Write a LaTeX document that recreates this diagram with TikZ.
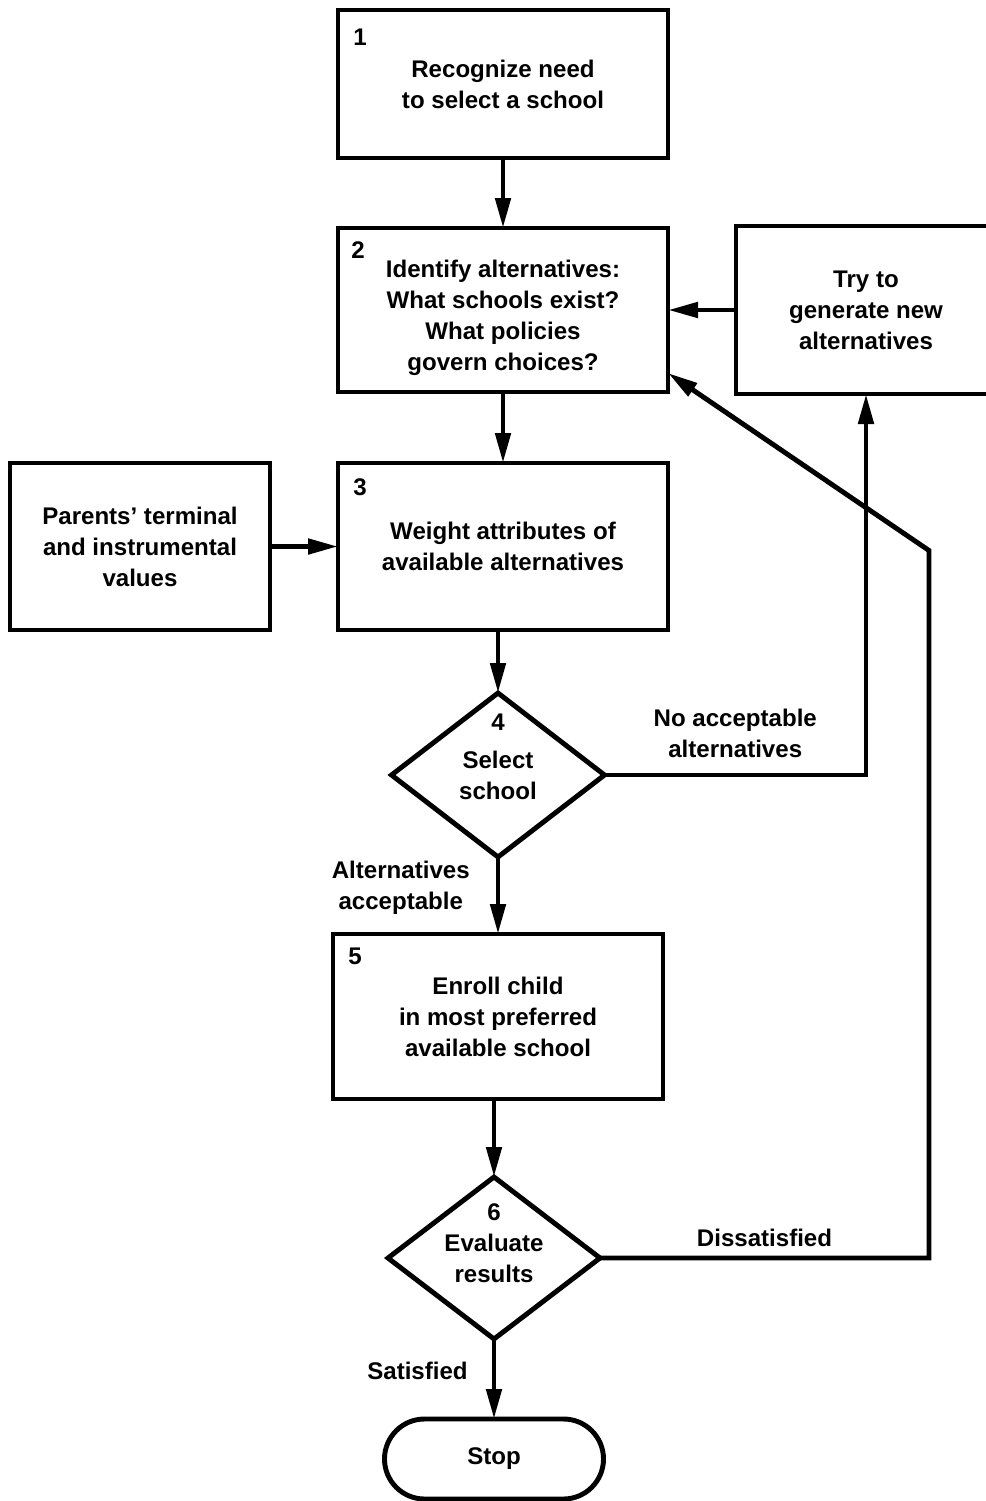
\documentclass[tikz,border=0pt]{standalone}
\usepackage{fontspec}
\setmainfont{Liberation Sans}
\usetikzlibrary{positioning,arrows.meta,calc,shapes.geometric}
\newcommand{\chartfont}{\fontsize{13.7}{17.6}\selectfont\bfseries}

\begin{document}
\begin{tikzpicture}[
>={Triangle[length=0.6cm,width=0.3cm]}, node distance=1.4cm,
every node/.style={font=\chartfont, align=center},
stepbox/.style={draw, line width=2.8pt, outer sep=0pt, minimum width=6.6cm, minimum height=3.3cm},
decision/.style={draw, diamond, line width=2.8pt, outer sep=0pt, inner sep=0pt, minimum width=4.26cm, minimum height=3.28cm},
stopbox/.style={draw, line width=2.8pt, outer sep=0pt, rounded corners=0.8cm, minimum width=4.38cm, minimum height=1.6cm},
num/.style={inner sep=0pt},
flow/.style={line width=2.8pt, ->}
]
\clip (0,0) rectangle (19.72,-30.02);
\node[stepbox, minimum height=2.96cm] (b1) at (10.06,-1.68) {Recognize need\\to select a school};
\node[stepbox, minimum height=3.28cm, text height=72pt, below=1.4cm of b1] (b2) {Identify alternatives:\\What schools exist?\\What policies\\govern choices?};
\node[stepbox, minimum height=3.34cm, below=1.42cm of b2] (b3) {Weight attributes of\\available alternatives};
\node[decision, below=1.26cm of b3, xshift=-0.1cm] (d4) {Select\\school};
\node[stepbox, below=1.54cm of d4] (b5) {Enroll child\\in most preferred\\available school};
\node[decision, minimum width=4.24cm, minimum height=3.24cm, below=1.56cm of b5, xshift=-0.08cm] (d6) {Evaluate\\results};
\node[stopbox, below=1.6cm of d6] (stop) {Stop};
\node[stepbox, minimum width=5.2cm, minimum height=3.36cm, right=1.36cm of b2] (try) {Try to\\generate new\\alternatives};
\node[stepbox, minimum width=5.2cm, minimum height=3.34cm, left=1.36cm of b3] (parents) {Parents' terminal\\and instrumental\\values};

\node[num, below right=0.37cm and 0.3cm of b1.north west] (n1) {1};
\node[num, below right=0.27cm and 0.26cm of b2.north west] (n2) {2};
\node[num, below right=0.3cm and 0.3cm of b3.north west] (n3) {3};
\node[num, below=0.42cm of d4.north] (n4) {4};
\node[num, below right=0.27cm and 0.3cm of b5.north west] (n5) {5};
\node[num, below=0.52cm of d6.north] (n6) {6};

\coordinate (turn) at ($(b3.east)+(5.22,-0.08)$);

\draw[flow] (b1) -- (b2);
\draw[flow] (b2) -- (b3);
\draw[flow] (parents) -- (b3);
\draw[flow] (b3.south -| d4.north) -- (d4);
\draw[flow] (d4) -- node[left=0.4cm, pos=0.4] (lbl-ok) {Alternatives\\acceptable} (b5);
\draw[flow] (b5.south -| d6.north) -- (d6);
\draw[flow] (d6) -- node[left=0.36cm, pos=0.4] (lbl-sat) {Satisfied} (stop);
\draw[flow] (d4.east) -| node[above=0.18cm, pos=0.25] (lbl-no) {No acceptable\\alternatives} (try.south);
\draw[flow] (try) -- (b2);
\draw[flow] (d6.east) -| node[above=0.05cm, pos=0.25] (lbl-dis) {Dissatisfied} (turn) -- ($(b2.south east)+(0,0.38)$);
\end{tikzpicture}
\end{document}
